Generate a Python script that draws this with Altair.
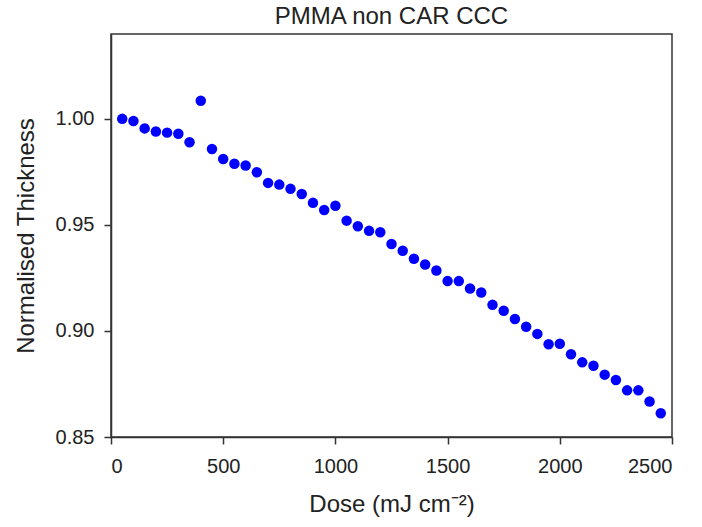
import altair as alt
import pandas as pd

dose = [50, 100, 150, 200, 250, 300, 350, 400, 450, 500,
        550, 600, 650, 700, 750, 800, 850, 900, 950, 1000,
        1050, 1100, 1150, 1200, 1250, 1300, 1350, 1400, 1450, 1500,
        1550, 1600, 1650, 1700, 1750, 1800, 1850, 1900, 1950, 2000,
        2050, 2100, 2150, 2200, 2250, 2300, 2350, 2400, 2450]
thickness = [1.000, 0.999, 0.9955, 0.994, 0.9935, 0.993, 0.989, 1.0085, 0.9858, 0.9811,
             0.9788, 0.978, 0.9748, 0.9698, 0.969, 0.967, 0.9646, 0.9604, 0.957, 0.959,
             0.952, 0.9494, 0.9472, 0.9465, 0.941, 0.9378, 0.934, 0.9313, 0.9285, 0.9235,
             0.9235, 0.920, 0.9181, 0.9123, 0.9095, 0.9056, 0.902, 0.8986, 0.8937, 0.894,
             0.889, 0.8852, 0.8836, 0.8794, 0.8769, 0.872, 0.872, 0.8667, 0.8612]

df = pd.DataFrame({"dose": dose, "thickness": thickness})

font = "Liberation Sans"

chart = alt.Chart(df).mark_circle(size=110, color="#0000FF", opacity=1).encode(
    x=alt.X("dose:Q", scale=alt.Scale(domain=[0, 2500], nice=False, zero=False),
            axis=alt.Axis(title="Dose (mJ cm⁻²)", values=[0, 500, 1000, 1500, 2000, 2500],
                          format="d", grid=False, tickSize=7, labelPadding=12, titlePadding=16)),
    y=alt.Y("thickness:Q", scale=alt.Scale(domain=[0.85, 1.04], nice=False, zero=False),
            axis=alt.Axis(title="Normalised Thickness", values=[0.85, 0.90, 0.95, 1.00],
                          format=".2f", grid=False, tickSize=7, labelPadding=10, titlePadding=17)),
).properties(
    width=561, height=403,
    title=alt.TitleParams("PMMA non CAR CCC", fontSize=24, font=font, fontWeight="normal",
                          color="#222222", offset=5),
    autosize=alt.AutoSizeParams(type="none"),
    padding={"left": 111, "top": 34, "right": 30, "bottom": 90},
).configure_view(
    stroke="#333333", strokeWidth=1.5
).configure_axis(
    domainColor="#333333", domainWidth=1.5, tickColor="#333333", tickWidth=1.5,
    labelFont=font, labelFontSize=20, labelColor="#222222",
    titleFont=font, titleFontSize=24, titleFontWeight="normal", titleColor="#222222"
)

chart.save("out.html", embed_options={"renderer": "svg", "actions": False})
